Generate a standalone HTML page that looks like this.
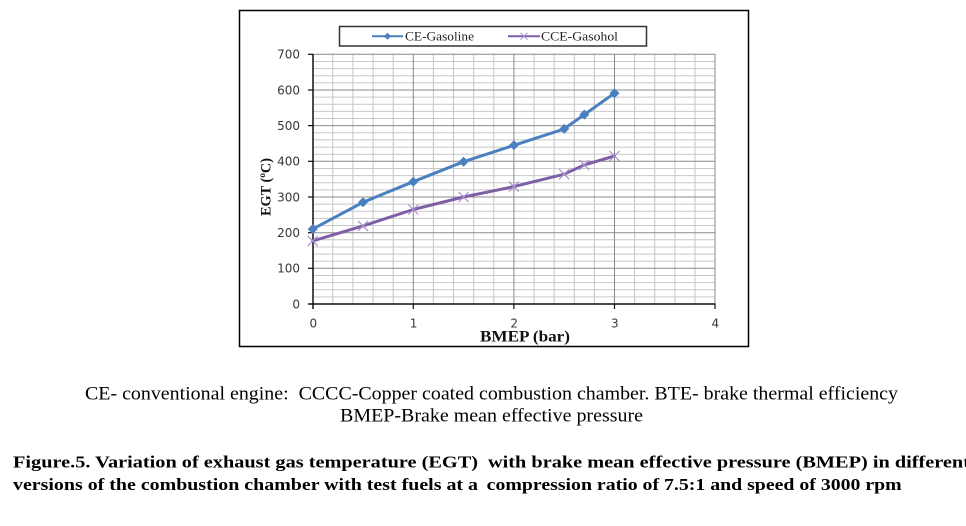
<!DOCTYPE html>
<html>
<head>
<meta charset="utf-8">
<style>
  html,body{margin:0;padding:0;background:#fff;}
  svg{display:block;}
</style>
</head>
<body>
<svg width="966" height="526" viewBox="0 0 966 526" xmlns="http://www.w3.org/2000/svg">
  <rect x="0" y="0" width="966" height="526" fill="#fff"/>
  <!-- outer chart frame -->
  <rect x="239.5" y="10.5" width="509" height="336" fill="#fff" stroke="#000" stroke-width="1.5"/>

  <!-- minor grid -->
  <g stroke="#c4c4c4" stroke-width="1">
    <line x1="332.8" y1="54" x2="332.8" y2="304"/>
    <line x1="352.9" y1="54" x2="352.9" y2="304"/>
    <line x1="373.1" y1="54" x2="373.1" y2="304"/>
    <line x1="393.2" y1="54" x2="393.2" y2="304"/>
    <line x1="433.4" y1="54" x2="433.4" y2="304"/>
    <line x1="453.5" y1="54" x2="453.5" y2="304"/>
    <line x1="473.7" y1="54" x2="473.7" y2="304"/>
    <line x1="493.8" y1="54" x2="493.8" y2="304"/>
    <line x1="534.0" y1="54" x2="534.0" y2="304"/>
    <line x1="554.1" y1="54" x2="554.1" y2="304"/>
    <line x1="574.3" y1="54" x2="574.3" y2="304"/>
    <line x1="594.4" y1="54" x2="594.4" y2="304"/>
    <line x1="634.6" y1="54" x2="634.6" y2="304"/>
    <line x1="654.7" y1="54" x2="654.7" y2="304"/>
    <line x1="674.9" y1="54" x2="674.9" y2="304"/>
    <line x1="695.0" y1="54" x2="695.0" y2="304"/>
  </g>
  <g stroke="#c4c4c4" stroke-width="1" id="hminor">
  </g>
  <g stroke="#c8c8c8" stroke-width="1">
    <line x1="313" y1="296.9" x2="715" y2="296.9"/>
    <line x1="313" y1="289.7" x2="715" y2="289.7"/>
    <line x1="313" y1="282.6" x2="715" y2="282.6"/>
    <line x1="313" y1="275.5" x2="715" y2="275.5"/>
    <line x1="313" y1="261.2" x2="715" y2="261.2"/>
    <line x1="313" y1="254.1" x2="715" y2="254.1"/>
    <line x1="313" y1="247.0" x2="715" y2="247.0"/>
    <line x1="313" y1="239.8" x2="715" y2="239.8"/>
    <line x1="313" y1="225.5" x2="715" y2="225.5"/>
    <line x1="313" y1="218.4" x2="715" y2="218.4"/>
    <line x1="313" y1="211.3" x2="715" y2="211.3"/>
    <line x1="313" y1="204.1" x2="715" y2="204.1"/>
    <line x1="313" y1="189.9" x2="715" y2="189.9"/>
    <line x1="313" y1="182.7" x2="715" y2="182.7"/>
    <line x1="313" y1="175.6" x2="715" y2="175.6"/>
    <line x1="313" y1="168.5" x2="715" y2="168.5"/>
    <line x1="313" y1="154.2" x2="715" y2="154.2"/>
    <line x1="313" y1="147.1" x2="715" y2="147.1"/>
    <line x1="313" y1="139.9" x2="715" y2="139.9"/>
    <line x1="313" y1="132.8" x2="715" y2="132.8"/>
    <line x1="313" y1="118.5" x2="715" y2="118.5"/>
    <line x1="313" y1="111.4" x2="715" y2="111.4"/>
    <line x1="313" y1="104.3" x2="715" y2="104.3"/>
    <line x1="313" y1="97.1" x2="715" y2="97.1"/>
    <line x1="313" y1="82.9" x2="715" y2="82.9"/>
    <line x1="313" y1="75.7" x2="715" y2="75.7"/>
    <line x1="313" y1="68.6" x2="715" y2="68.6"/>
    <line x1="313" y1="61.5" x2="715" y2="61.5"/>
  </g>
  <!-- major grid -->
  <g stroke="#8a8a8a" stroke-width="1">
    <line x1="413.3" y1="54" x2="413.3" y2="304"/>
    <line x1="513.9" y1="54" x2="513.9" y2="304"/>
    <line x1="614.5" y1="54" x2="614.5" y2="304"/>
    <line x1="715" y1="54" x2="715" y2="304"/>
    <line x1="313" y1="268.3" x2="715" y2="268.3"/>
    <line x1="313" y1="232.7" x2="715" y2="232.7"/>
    <line x1="313" y1="197.0" x2="715" y2="197.0"/>
    <line x1="313" y1="161.3" x2="715" y2="161.3"/>
    <line x1="313" y1="125.6" x2="715" y2="125.6"/>
    <line x1="313" y1="90.0" x2="715" y2="90.0"/>
    <line x1="313" y1="54.3" x2="715" y2="54.3"/>
  </g>

  <!-- axes -->
  <g stroke="#111" stroke-width="1.5">
    <line x1="313" y1="54" x2="313" y2="309"/>
    <line x1="308" y1="304" x2="715.5" y2="304"/>
  </g>
  <g stroke="#111" stroke-width="1.2">
    <line x1="308" y1="268.3" x2="313" y2="268.3"/>
    <line x1="308" y1="232.7" x2="313" y2="232.7"/>
    <line x1="308" y1="197.0" x2="313" y2="197.0"/>
    <line x1="308" y1="161.3" x2="313" y2="161.3"/>
    <line x1="308" y1="125.6" x2="313" y2="125.6"/>
    <line x1="308" y1="90.0" x2="313" y2="90.0"/>
    <line x1="308" y1="54.3" x2="313" y2="54.3"/>
    <line x1="413.3" y1="304" x2="413.3" y2="309"/>
    <line x1="513.9" y1="304" x2="513.9" y2="309"/>
    <line x1="614.5" y1="304" x2="614.5" y2="309"/>
    <line x1="715" y1="304" x2="715" y2="309"/>
  </g>

  <!-- y tick labels -->
  <g font-family="'DejaVu Sans', sans-serif" font-size="12" fill="#383838" text-anchor="end">
    <text x="300" y="308.3">0</text>
    <text x="300" y="272.6">100</text>
    <text x="300" y="237">200</text>
    <text x="300" y="201.3">300</text>
    <text x="300" y="165.6">400</text>
    <text x="300" y="129.9">500</text>
    <text x="300" y="94.3">600</text>
    <text x="300" y="58.6">700</text>
  </g>
  <!-- x tick labels -->
  <g font-family="'DejaVu Sans', sans-serif" font-size="12" fill="#383838" text-anchor="middle">
    <text x="313.3" y="327.5">0</text>
    <text x="413.6" y="327.5">1</text>
    <text x="514.2" y="327.5">2</text>
    <text x="614.8" y="327.5">3</text>
    <text x="715.3" y="327.5">4</text>
  </g>

  <!-- axis titles -->
  <text x="525" y="341.5" font-family="'Liberation Serif', serif" font-weight="bold" font-size="16" fill="#111" text-anchor="middle" textLength="90" lengthAdjust="spacingAndGlyphs">BMEP (bar)</text>
  <text transform="translate(270.5,187) rotate(-90)" x="0" y="0" font-family="'Liberation Serif', serif" font-weight="bold" font-size="15" fill="#111" text-anchor="middle" textLength="58" lengthAdjust="spacingAndGlyphs">EGT (ºC)</text>

  <!-- series: CCE-Gasohol -->
  <polyline fill="none" stroke="#7d5fa6" stroke-width="3" stroke-linejoin="round" stroke-linecap="round"
    points="312.7,240.9 363.0,225.9 413.3,209.5 463.6,197.0 513.9,186.6 564.2,174.2 584.3,164.9 614.5,156.0"/>
  <g stroke="#a98fcf" stroke-width="1.2">
    <path d="M307.7,235.9 L317.7,245.9 M307.7,245.9 L317.7,235.9"/>
    <path d="M358,220.9 L368,230.9 M358,230.9 L368,220.9"/>
    <path d="M408.3,204.5 L418.3,214.5 M408.3,214.5 L418.3,204.5"/>
    <path d="M458.6,192 L468.6,202 M458.6,202 L468.6,192"/>
    <path d="M508.9,181.6 L518.9,191.6 M508.9,191.6 L518.9,181.6"/>
    <path d="M559.2,169.2 L569.2,179.2 M559.2,179.2 L569.2,169.2"/>
    <path d="M579.3,159.9 L589.3,169.9 M579.3,169.9 L589.3,159.9"/>
    <path d="M609.5,151 L619.5,161 M609.5,161 L619.5,151"/>
  </g>

  <!-- series: CE-Gasoline -->
  <polyline fill="none" stroke="#4a7fc0" stroke-width="3" stroke-linejoin="round" stroke-linecap="round"
    points="312.7,229.1 363.0,202.3 413.3,181.7 463.6,161.7 513.9,145.3 564.2,128.9 584.3,114.6 614.5,93.2"/>
  <g fill="#4a7fc0">
    <path d="M312.7,224.1 L317.7,229.1 L312.7,234.1 L307.7,229.1Z"/>
    <path d="M363,197.3 L368,202.3 L363,207.3 L358,202.3Z"/>
    <path d="M413.3,176.7 L418.3,181.7 L413.3,186.7 L408.3,181.7Z"/>
    <path d="M463.6,156.7 L468.6,161.7 L463.6,166.7 L458.6,161.7Z"/>
    <path d="M513.9,140.3 L518.9,145.3 L513.9,150.3 L508.9,145.3Z"/>
    <path d="M564.2,123.9 L569.2,128.9 L564.2,133.9 L559.2,128.9Z"/>
    <path d="M584.3,109.6 L589.3,114.6 L584.3,119.6 L579.3,114.6Z"/>
    <path d="M614.5,88.2 L619.5,93.2 L614.5,98.2 L609.5,93.2Z"/>
  </g>

  <!-- legend -->
  <rect x="339.5" y="26.5" width="307" height="19.5" fill="#fff" stroke="#333" stroke-width="1.5"/>
  <line x1="372" y1="36.3" x2="403" y2="36.3" stroke="#4a7fc0" stroke-width="2"/>
  <path d="M387.5,32.8 L391,36.3 L387.5,39.8 L384,36.3Z" fill="#4a7fc0"/>
  <text x="405" y="40.5" font-family="'Liberation Serif', serif" font-size="13" fill="#222" textLength="69" lengthAdjust="spacingAndGlyphs">CE-Gasoline</text>
  <line x1="508" y1="36.3" x2="540" y2="36.3" stroke="#7d5fa6" stroke-width="2"/>
  <path d="M520.5,32.8 L527.5,39.8 M520.5,39.8 L527.5,32.8" stroke="#a98fcf" stroke-width="1"/>
  <text x="541" y="40.5" font-family="'Liberation Serif', serif" font-size="13" fill="#222" textLength="77" lengthAdjust="spacingAndGlyphs">CCE-Gasohol</text>

  <!-- caption lines -->
  <g font-family="'Liberation Serif', serif" font-size="19" fill="#000">
    <text x="85" y="399.3" textLength="813" lengthAdjust="spacingAndGlyphs" xml:space="preserve">CE- conventional engine:  CCCC-Copper coated combustion chamber. BTE- brake thermal efficiency</text>
    <text x="340" y="421.7" textLength="303" lengthAdjust="spacingAndGlyphs">BMEP-Brake mean effective pressure</text>
  </g>
  <g font-family="'Liberation Serif', serif" font-size="17" font-weight="bold" fill="#000">
    <text x="13" y="467.7" textLength="465" lengthAdjust="spacingAndGlyphs">Figure.5. Variation of exhaust gas temperature (EGT)</text>
    <text x="488" y="467.7" textLength="482" lengthAdjust="spacingAndGlyphs">with brake mean effective pressure (BMEP) in different</text>
    <text x="13" y="490" textLength="465" lengthAdjust="spacingAndGlyphs">versions of the combustion chamber with test fuels at a</text>
    <text x="486.7" y="490" textLength="415" lengthAdjust="spacingAndGlyphs">compression ratio of 7.5:1 and speed of 3000 rpm</text>
  </g>
</svg>
</body>
</html>
